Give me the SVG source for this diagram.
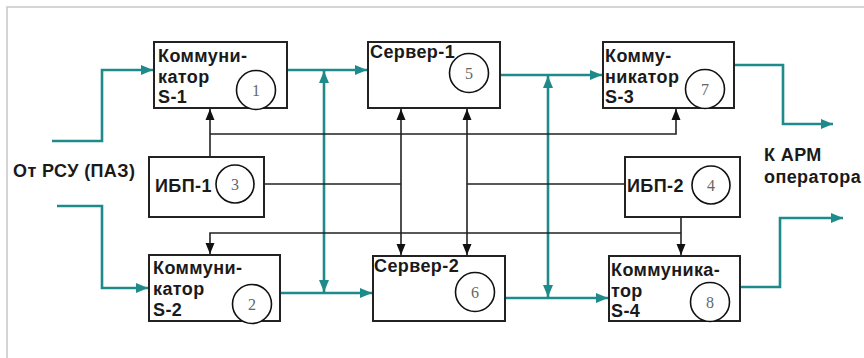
<svg xmlns="http://www.w3.org/2000/svg" width="864" height="358" viewBox="0 0 864 358">
<defs>
<marker id="ab" markerUnits="userSpaceOnUse" markerWidth="12" markerHeight="10" refX="11" refY="5" orient="auto-start-reverse"><path d="M0,0.5 L11,5 L0,9.5 z" fill="#111"/></marker>
<marker id="at" markerUnits="userSpaceOnUse" markerWidth="13" markerHeight="11" refX="12" refY="5.5" orient="auto-start-reverse"><path d="M0,0.5 L12,5.5 L0,10.5 z" fill="#1e8a8a"/></marker>
</defs>
<style>
.box{fill:#fff;stroke:#222;stroke-width:2}
.cir{fill:#fff;stroke:#111;stroke-width:1.6}
.lbl{font-family:"Liberation Sans",Arial,sans-serif;font-weight:bold;font-size:18px;letter-spacing:0.4px;fill:#1a1a1a}
.num{font-family:"Liberation Serif","Times New Roman",serif;font-size:16px;fill:#666;text-anchor:middle}
.t{fill:none;stroke:#1e8a8a;stroke-width:2.6}
.k{fill:none;stroke:#222;stroke-width:1.6}
</style>
<rect x="0" y="0" width="864" height="358" fill="#fff"/>
<path d="M7,358 V7 H864" fill="none" stroke="#c8c8c8" stroke-width="1.5"/>
<g id="connectors">
<path class="t" d="M52,141 H102 V70 H153" marker-end="url(#at)"/>
<path class="t" d="M57,206 H102 V288 H148" marker-end="url(#at)"/>
<path class="t" d="M287,70 H367" marker-end="url(#at)"/>
<path class="t" d="M324,71 V292" marker-start="url(#at)" marker-end="url(#at)"/>
<path class="t" d="M280,293 H372" marker-end="url(#at)"/>
<path class="t" d="M500,75 H602" marker-end="url(#at)"/>
<path class="t" d="M548,76 V297" marker-start="url(#at)" marker-end="url(#at)"/>
<path class="t" d="M505,298 H608" marker-end="url(#at)"/>
<path class="t" d="M734,65 H783 V124 H833" marker-end="url(#at)"/>
<path class="t" d="M740,287 H780 V218 H843" marker-end="url(#at)"/>
<path class="k" d="M210,157 V109" marker-end="url(#ab)"/>
<path class="k" d="M210,134 H676 V109" marker-end="url(#ab)"/>
<path class="k" d="M264,184 H401"/>
<path class="k" d="M401,109 V255" marker-start="url(#ab)" marker-end="url(#ab)"/>
<path class="k" d="M467,109 V255" marker-start="url(#ab)" marker-end="url(#ab)"/>
<path class="k" d="M625,184 H467"/>
<path class="k" d="M681,233 H210 V254" marker-end="url(#ab)"/>
<path class="k" d="M681,217 V255" marker-end="url(#ab)"/>
</g>
<g id="node1">
<rect class="box" x="154" y="42" width="133" height="66"/>
<circle class="cir" cx="256" cy="90" r="19.5"/>
<text class="num" x="256" y="96">1</text>
<text class="lbl" x="158" y="62">Коммуни-</text>
<text class="lbl" x="158" y="83">катор</text>
<text class="lbl" x="158" y="103">S-1</text>
</g>
<g id="node5">
<rect class="box" x="368" y="42" width="132" height="66"/>
<circle class="cir" cx="469" cy="73" r="19.5"/>
<text class="num" x="469" y="79">5</text>
<text class="lbl" x="370" y="58">Сервер-1</text>
</g>
<g id="node7">
<rect class="box" x="603" y="42" width="131" height="66"/>
<circle class="cir" cx="705" cy="89" r="19.5"/>
<text class="num" x="705" y="95">7</text>
<text class="lbl" x="605" y="62">Комму-</text>
<text class="lbl" x="605" y="83">никатор</text>
<text class="lbl" x="605" y="103">S-3</text>
</g>
<g id="node3">
<rect class="box" x="149" y="157" width="115" height="60"/>
<circle class="cir" cx="235" cy="184" r="19"/>
<text class="num" x="235" y="190">3</text>
<text class="lbl" x="155" y="192">ИБП-1</text>
</g>
<g id="node4">
<rect class="box" x="625" y="157" width="115" height="60"/>
<circle class="cir" cx="711" cy="185" r="19"/>
<text class="num" x="711" y="191">4</text>
<text class="lbl" x="627" y="192">ИБП-2</text>
</g>
<g id="node2">
<rect class="box" x="149" y="255" width="131" height="66"/>
<circle class="cir" cx="252" cy="304" r="19.5"/>
<text class="num" x="252" y="310">2</text>
<text class="lbl" x="153" y="274">Коммуни-</text>
<text class="lbl" x="153" y="295">катор</text>
<text class="lbl" x="153" y="316">S-2</text>
</g>
<g id="node6">
<rect class="box" x="373" y="256" width="132" height="65"/>
<circle class="cir" cx="475" cy="292" r="19.5"/>
<text class="num" x="475" y="298">6</text>
<text class="lbl" x="374" y="272">Сервер-2</text>
</g>
<g id="node8">
<rect class="box" x="609" y="256" width="131" height="65"/>
<circle class="cir" cx="710" cy="302" r="19.5"/>
<text class="num" x="710" y="308">8</text>
<text class="lbl" x="611" y="276">Коммуника-</text>
<text class="lbl" x="611" y="297">тор</text>
<text class="lbl" x="611" y="317">S-4</text>
</g>
<g id="labels">
<text class="lbl" x="13" y="177">От РСУ (ПАЗ)</text>
<text class="lbl" x="764" y="161">К АРМ</text>
<text class="lbl" x="764" y="183">оператора</text>
</g>
</svg>
